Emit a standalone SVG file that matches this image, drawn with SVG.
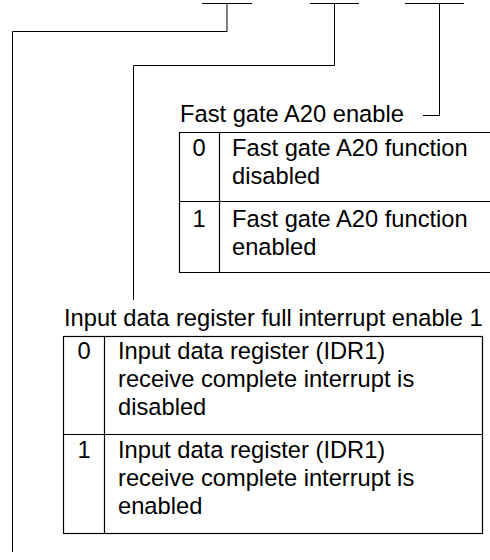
<svg xmlns="http://www.w3.org/2000/svg" width="490" height="560" viewBox="0 0 490 560">
<style>
text{font-family:"Liberation Sans",Arial,sans-serif;font-size:23.7px;fill:#000}
.c{text-anchor:middle}
.ln{fill:none;stroke:#000;stroke-width:1}
.tb{fill:#fff;stroke:#000;stroke-width:1.2}
</style>
<rect width="490" height="560" fill="#fff"/>
<g id="connectors">
<path class="ln" d="M202,3.5H252M227,3.5V31.5H12.5V552"/>
<path class="ln" d="M310,3.5H359M334.5,3.5V65.5H133.5V300"/>
<path class="ln" d="M405,3.5H464M439.5,3.5V115.5H423"/>
</g>
<g id="fast-gate">
<text x="180" y="122">Fast gate A20 enable</text>
<path class="tb" d="M495,132.5H179.5V272.5H495M179.5,201.5H495M219.5,132.5V272.5"/>
<text class="c" x="199" y="156">0</text>
<text x="232" y="156">Fast gate A20 function</text>
<text x="232" y="184">disabled</text>
<text class="c" x="199" y="227">1</text>
<text x="232" y="227">Fast gate A20 function</text>
<text x="232" y="255">enabled</text>
</g>
<g id="idr-interrupt">
<text x="64" y="326">Input data register full interrupt enable 1</text>
<rect class="tb" x="63.5" y="336.5" width="419" height="197"/>
<path class="tb" d="M63.5,434.5H482.5M104.5,336.5V533.5"/>
<text class="c" x="84" y="359">0</text>
<text x="118" y="359">Input data register (IDR1)</text>
<text x="118" y="387">receive complete interrupt is</text>
<text x="118" y="415">disabled</text>
<text class="c" x="84" y="458">1</text>
<text x="118" y="458">Input data register (IDR1)</text>
<text x="118" y="486">receive complete interrupt is</text>
<text x="118" y="514">enabled</text>
</g>
</svg>
